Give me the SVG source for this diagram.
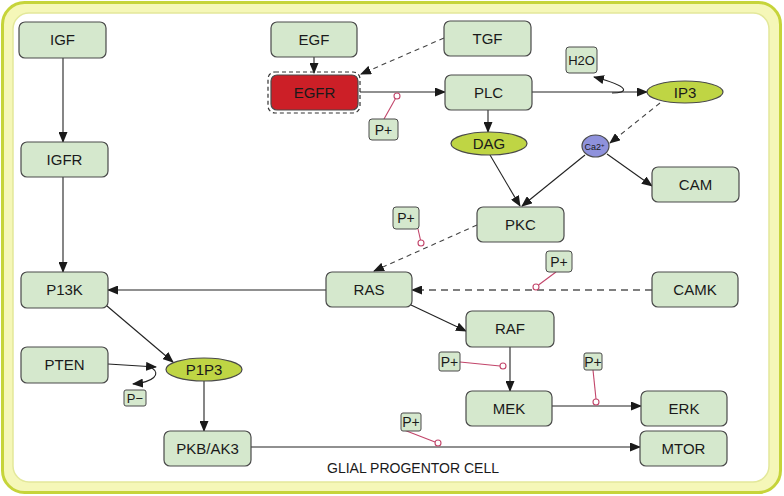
<svg xmlns="http://www.w3.org/2000/svg" width="784" height="496" viewBox="0 0 784 496">
<style>
.n rect{fill:#d5e8cd;stroke:#4a4a4a;stroke-width:1.2}
.n text,.t{font-family:"Liberation Sans",Arial,sans-serif;font-size:15px;fill:#1a1a1a;text-anchor:middle}
.e ellipse{fill:#bfd544;stroke:#4a4a4a;stroke-width:1.2}
.p rect{fill:#d5e8cd;stroke:#4a4a4a;stroke-width:1}
.p text{font-size:14px}
.c path{fill:none;stroke:#222;stroke-width:1.1}
.c .d{stroke-dasharray:5,4;stroke:#444}
.c .dk{stroke-dasharray:7,5;stroke:#555;stroke-width:1.6}
.m line{stroke:#c2456a;stroke-width:1.1}
.m circle{fill:#fff;stroke:#c2456a;stroke-width:1.1}
</style>
<defs>
<marker id="a" markerUnits="userSpaceOnUse" markerWidth="11" markerHeight="9" refX="10" refY="4.5" orient="auto"><path d="M0,0 L11,4.5 L0,9 z" fill="#1a1a1a"/></marker>
</defs>
<rect x="2.5" y="2.5" width="778" height="490" rx="22" fill="#f5f7b8" stroke="#c6d43a" stroke-width="3"/>
<rect x="13" y="13" width="756" height="469" rx="16" fill="#ffffff" stroke="#e3e89a" stroke-width="1.5"/>
<text class="t" x="413" y="473" style="font-size:14px">GLIAL PROGENTOR CELL</text>

<g class="c">
<path d="M63 58 V142" marker-end="url(#a)"/>
<path d="M63 177 V272" marker-end="url(#a)"/>
<path d="M314 57 V73" marker-end="url(#a)"/>
<path class="d" d="M444 38 L361 74" marker-end="url(#a)"/>
<path d="M360 92 H445" marker-end="url(#a)"/>
<path d="M532 92 H647" marker-end="url(#a)"/>
<path d="M612 93 C628 93 632 87 594 77" marker-end="url(#a)"/>
<path d="M488 110 V132" marker-end="url(#a)"/>
<path class="d" d="M660 103 L610 143" marker-end="url(#a)"/>
<path d="M490 155 L520 206" marker-end="url(#a)"/>
<path d="M585 155 L522 206" marker-end="url(#a)"/>
<path d="M607 154 L652 186" marker-end="url(#a)"/>
<path class="d" d="M477 225 L374 271" marker-end="url(#a)"/>
<path d="M326 290 H108" marker-end="url(#a)"/>
<path class="dk" d="M652 290 H412" marker-end="url(#a)"/>
<path d="M411 305 L466 331" marker-end="url(#a)"/>
<path d="M510 347 V391" marker-end="url(#a)"/>
<path d="M552 406 H641" marker-end="url(#a)"/>
<path d="M251 447 H640" marker-end="url(#a)"/>
<path d="M107 306 L173 362" marker-end="url(#a)"/>
<path d="M108 364 L156 367" marker-end="url(#a)"/>
<path d="M152 368 C161 374 154 382 133 384" marker-end="url(#a)"/>
<path d="M204 381 V431" marker-end="url(#a)"/>
</g>

<g class="m">
<line x1="384" y1="119" x2="395.5" y2="98.5"/><circle cx="397" cy="96" r="3"/>
<line x1="418" y1="229" x2="420.5" y2="240"/><circle cx="421" cy="243" r="3"/>
<line x1="556" y1="272" x2="538.5" y2="285"/><circle cx="536" cy="287" r="3"/>
<line x1="460" y1="362" x2="500" y2="366"/><circle cx="503" cy="366" r="3"/>
<line x1="593" y1="370" x2="596" y2="399"/><circle cx="596" cy="402" r="3"/>
<line x1="404" y1="430" x2="435" y2="442"/><circle cx="438" cy="443" r="3"/>
</g>

<g id="IGF" class="n"><rect x="19" y="22" width="87" height="36" rx="6"/><text x="62.5" y="45">IGF</text></g>
<g id="IGFR" class="n"><rect x="21" y="142" width="87" height="35" rx="6"/><text x="64.5" y="165">IGFR</text></g>
<g id="EGF" class="n"><rect x="271" y="22" width="86" height="35" rx="6"/><text x="314" y="45">EGF</text></g>
<g id="EGFR" class="n"><rect x="268" y="72" width="92" height="41" rx="7" style="fill:none;stroke:#333;stroke-dasharray:4,3"/><rect x="271" y="75" width="87" height="35" rx="6" style="fill:#cc1f27"/><text x="314.5" y="98">EGFR</text></g>
<g id="TGF" class="n"><rect x="444" y="21" width="87" height="35" rx="6"/><text x="487.5" y="44">TGF</text></g>
<g id="PLC" class="n"><rect x="445" y="75" width="87" height="35" rx="6"/><text x="488.5" y="98">PLC</text></g>
<g id="H2O" class="n p"><rect x="566" y="47" width="31" height="26" rx="3"/><text x="581.5" y="65" style="font-size:13px">H2O</text></g>
<g id="IP3" class="n e"><ellipse cx="685" cy="92" rx="38" ry="11"/><text x="685" y="97.5">IP3</text></g>
<g id="DAG" class="n e"><ellipse cx="489" cy="143.5" rx="38" ry="11.5"/><text x="489" y="149">DAG</text></g>
<g id="Ca2" class="n"><ellipse cx="595.5" cy="146" rx="13.5" ry="11" fill="#8f92dc" stroke="#4a4a4a" stroke-width="1.2"/><text x="594.5" y="149.5" style="font-size:9px">Ca2<tspan dy="-3" style="font-size:6px">+</tspan></text></g>
<g id="CAM" class="n"><rect x="652" y="167" width="87" height="35" rx="6"/><text x="695.5" y="190">CAM</text></g>
<g id="PKC" class="n"><rect x="477" y="207" width="87" height="35" rx="6"/><text x="520.5" y="230">PKC</text></g>
<g id="P13K" class="n"><rect x="21" y="272" width="87" height="36" rx="6"/><text x="64.5" y="295">P13K</text></g>
<g id="RAS" class="n"><rect x="326" y="272" width="86" height="35" rx="6"/><text x="369" y="295">RAS</text></g>
<g id="CAMK" class="n"><rect x="652" y="272" width="86" height="35" rx="6"/><text x="695" y="295">CAMK</text></g>
<g id="RAF" class="n"><rect x="466" y="311" width="88" height="36" rx="6"/><text x="510" y="334">RAF</text></g>
<g id="PTEN" class="n"><rect x="21" y="347" width="87" height="36" rx="6"/><text x="64.5" y="370">PTEN</text></g>
<g id="P1P3" class="n e"><ellipse cx="204" cy="369.5" rx="38" ry="11.5"/><text x="204" y="375">P1P3</text></g>
<g id="MEK" class="n"><rect x="466" y="391" width="86" height="35" rx="6"/><text x="509" y="414">MEK</text></g>
<g id="ERK" class="n"><rect x="641" y="391" width="86" height="35" rx="6"/><text x="684" y="414">ERK</text></g>
<g id="PKBAK3" class="n"><rect x="164" y="431" width="87" height="35" rx="6"/><text x="207.5" y="454">PKB/AK3</text></g>
<g id="MTOR" class="n"><rect x="640" y="431" width="87" height="35" rx="6"/><text x="683.5" y="454">MTOR</text></g>

<g id="Pminus" class="n p"><rect x="124" y="390" width="22" height="16" rx="2"/><text x="135" y="403" style="font-size:13px">P−</text></g>
<g id="Pplus1" class="n p"><rect x="369" y="119" width="29" height="21" rx="3"/><text x="383.5" y="135">P+</text></g>
<g id="Pplus2" class="n p"><rect x="393" y="207" width="26" height="22" rx="3"/><text x="406" y="223">P+</text></g>
<g id="Pplus3" class="n p"><rect x="546" y="251" width="26" height="21" rx="3"/><text x="559" y="266.5">P+</text></g>
<g id="Pplus4" class="n p"><rect x="439" y="352" width="21" height="19" rx="2"/><text x="449.5" y="366.5">P+</text></g>
<g id="Pplus5" class="n p"><rect x="584" y="353" width="18" height="17" rx="2"/><text x="593" y="367">P+</text></g>
<g id="Pplus6" class="n p"><rect x="401" y="413" width="20" height="18" rx="2"/><text x="411" y="427">P+</text></g>
</svg>
